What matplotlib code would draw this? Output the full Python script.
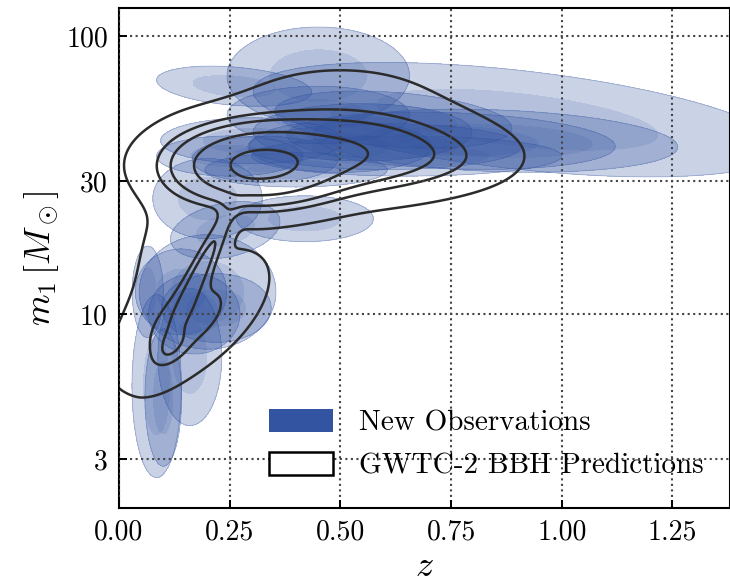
import numpy as np
import matplotlib
matplotlib.use("Agg")
import matplotlib.pyplot as plt
from matplotlib.patches import Patch
from matplotlib.ticker import FixedLocator, FixedFormatter, NullLocator

plt.rcParams['font.family'] = 'cmr10'
plt.rcParams['mathtext.fontset'] = 'cm'
plt.rcParams['axes.formatter.use_mathtext'] = True

# New observations: each event approximated by a gaussian in (z, log10 m1)
obs_z   = [0.45, 0.90, 0.26, 0.33, 0.50, 0.75, 0.85, 0.65, 0.25, 0.45, 0.55, 0.40,
           0.24, 0.42, 0.20, 0.14, 0.22, 0.085, 0.10, 0.16, 0.065, 0.60, 0.20, 0.30,
           0.17, 0.62]
obs_m   = [72, 50, 66, 36, 40, 42, 42, 37, 37, 52, 45, 33,
           20, 22, 12, 12, 10.5, 5.5, 5.0, 7.0, 12, 40, 26, 42,
           10, 50]
obs_sz  = [0.10, 0.29, 0.085, 0.08, 0.10, 0.18, 0.20, 0.17, 0.08, 0.10, 0.12, 0.10,
           0.06, 0.075, 0.075, 0.05, 0.06, 0.027, 0.02, 0.035, 0.017, 0.15, 0.06, 0.10,
           0.05, 0.13]
obs_sl  = [0.085, 0.10, 0.035, 0.04, 0.045, 0.05, 0.055, 0.035, 0.035, 0.05, 0.05, 0.03,
           0.05, 0.04, 0.10, 0.075, 0.06, 0.16, 0.12, 0.12, 0.08, 0.04, 0.07, 0.04,
           0.07, 0.05]
obs_rho = [0.0, -0.5, -0.3, 0.0, 0.0, -0.2, -0.2, 0.0, 0.0, 0.0, 0.0, 0.0,
           0.3, 0.0, 0.0, 0.0, 0.0, 0.0, 0.0, 0.0, 0.0, 0.0, 0.0, 0.0,
           0.0, -0.3]

# GWTC-2 BBH predictions: gaussian mixture in (z, log10 m1)
pred_w   = [1.0, 0.40, 0.10, 0.20, 0.025, 0.03, 0.03, 0.13]
pred_z   = [0.31, 0.50, 0.12, 0.19, 0.10, 0.50, 0.75, 0.16]
pred_m   = [34, 38, 7.6, 15, 14, 58, 36, 9.5]
pred_sz  = [0.10, 0.15, 0.022, 0.045, 0.055, 0.15, 0.09, 0.085]
pred_sl  = [0.075, 0.08, 0.04, 0.14, 0.25, 0.09, 0.06, 0.12]
pred_rho = [0.0, 0.0, 0.5, 0.92, 0.3, 0.0, 0.0, 0.6]
pred_levels = [0.012, 0.08, 0.15, 0.35, 0.8]

blue = '#3354a0'


def gauss2d(Z, L, z0, m0, sz, sl, rho):
    dz = (Z - z0) / sz
    dl = (L - np.log10(m0)) / sl
    q = (dz**2 - 2 * rho * dz * dl + dl**2) / (1 - rho**2)
    return np.exp(-0.5 * q)


zz = np.linspace(-0.15, 1.6, 500)
ll = np.linspace(0.1, 2.3, 500)
Z, L = np.meshgrid(zz, ll)
M = 10**L

fig = plt.figure(figsize=(7.3, 5.82), dpi=100)
ax = fig.add_axes([0.163, 0.127, 0.837, 0.859])

for i in range(len(obs_z)):
    g = gauss2d(Z, L, obs_z[i], obs_m[i], obs_sz[i], obs_sl[i], obs_rho[i])
    ax.contourf(Z, M, g, levels=[0.12, 2], colors=[blue], alpha=0.26)
    ax.contourf(Z, M, g, levels=[0.55, 2], colors=[blue], alpha=0.14)
    ax.contour(Z, M, g, levels=[0.12], colors=[blue], alpha=0.35, linewidths=0.6)

dens = np.zeros_like(Z)
for i in range(len(pred_w)):
    dens += pred_w[i] * gauss2d(Z, L, pred_z[i], pred_m[i], pred_sz[i], pred_sl[i], pred_rho[i])
dens /= dens.max()
ax.contour(Z, M, dens, levels=pred_levels, colors='#2b2b2b', linewidths=1.8)

ax.set_yscale('log')
ax.set_xlim(0, 1.38)
ax.set_ylim(2.0, 126)
ax.xaxis.set_major_locator(FixedLocator([0, 0.25, 0.5, 0.75, 1.0, 1.25]))
ax.xaxis.set_major_formatter(FixedFormatter(['0.00', '0.25', '0.50', '0.75', '1.00', '1.25']))
ax.yaxis.set_major_locator(FixedLocator([3, 10, 30, 100]))
ax.yaxis.set_major_formatter(FixedFormatter(['3', '10', '30', '100']))
ax.yaxis.set_minor_locator(NullLocator())
ax.tick_params(direction='in', length=6, width=1.4, labelsize=20, pad=8)
ax.grid(True, linestyle=':', color='#444444', linewidth=1.5)
ax.set_axisbelow(False)
for s in ax.spines.values():
    s.set_linewidth(1.5)

ax.set_xlabel(r'$z$', fontsize=26)
ax.set_ylabel(r'$m_1\,[M_\odot]$', fontsize=26)

handles = [Patch(facecolor=blue, edgecolor='none', label='New Observations'),
           Patch(facecolor='white', edgecolor='black', linewidth=1.8, label='GWTC-2 BBH Predictions')]
ax.legend(handles=handles, loc='lower right', frameon=False, fontsize=21,
          handlelength=2.2, handleheight=0.83, handletextpad=0.9, labelspacing=0.54,
          bbox_to_anchor=(1.0, 0.004))

fig.savefig('out.png', dpi=100)
